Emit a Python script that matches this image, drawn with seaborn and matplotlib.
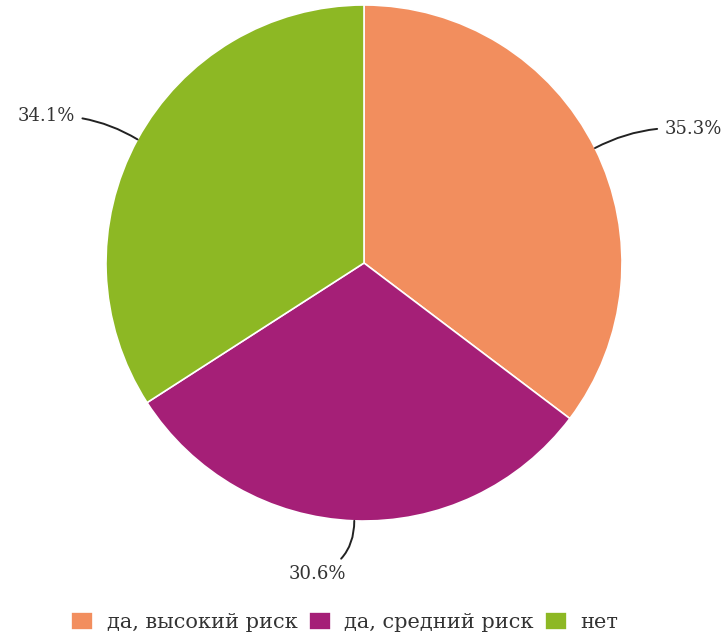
import matplotlib
matplotlib.use("Agg")
import matplotlib.pyplot as plt
import numpy as np
import seaborn as sns

categories = ["да, высокий риск", "да, средний риск", "нет"]
shares = [35.3, 30.6, 34.1]
colors = ["#F28E5E", "#A51F77", "#8DB824"]

sns.set_theme(style="white")
plt.rcParams["font.family"] = ["DejaVu Serif"]

fig = plt.figure(figsize=(7.26, 6.38), dpi=100)
r_px = 258
ax = fig.add_axes([(364 - r_px) / 726, (375 - r_px) / 638, 2 * r_px / 726, 2 * r_px / 638])

wedges, _ = ax.pie(
    shares,
    colors=sns.color_palette(colors),
    startangle=90,
    counterclock=False,
    radius=1,
    wedgeprops=dict(edgecolor="white", linewidth=1.2),
)
ax.set_xlim(-1, 1)
ax.set_ylim(-1, 1)
ax.set_aspect("equal")

# label placement (text anchor, alignment, curvature)
label_pos = [(1.165, 0.52, "left", 0.15), (-0.07, -1.205, "right", 0.35), (-1.12, 0.57, "right", -0.15)]
for w, val, (tx, ty, ha, rad) in zip(wedges, shares, label_pos):
    ang = np.deg2rad((w.theta1 + w.theta2) / 2)
    x, y = np.cos(ang), np.sin(ang)
    ax.annotate(
        f"{val}%",
        xy=(x, y),
        xytext=(tx, ty),
        ha=ha,
        va="center",
        fontsize=13,
        color="#333333",
        annotation_clip=False,
        arrowprops=dict(arrowstyle="-", color="#222222", lw=1.4,
                        connectionstyle=f"arc3,rad={rad}", shrinkA=3, shrinkB=0),
    )

fig.legend(
    wedges,
    categories,
    loc="center",
    bbox_to_anchor=(0.475, 0.025),
    ncol=3,
    frameon=False,
    fontsize=15,
    handlelength=1.05,
    handleheight=0.95,
    handletextpad=0.65,
    columnspacing=0.55,
    labelcolor="#333333",
)

fig.savefig("out.png", dpi=100)
